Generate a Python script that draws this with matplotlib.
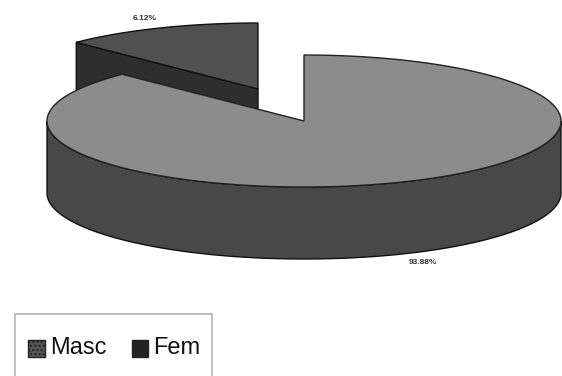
import matplotlib
matplotlib.use('Agg')
import matplotlib.pyplot as plt
import numpy as np
from matplotlib.patches import Rectangle

categories = ['Masc', 'Fem']
labels = ['93.88%', '6.12%']
# share of the circle each slice takes up as drawn
drawn_shares = [87.5, 12.5]

plt.rcParams['font.family'] = ['Liberation Sans', 'DejaVu Sans']

fig = plt.figure(figsize=(5.62, 3.76), dpi=100)
ax = fig.add_axes([0, 0, 1, 1])
ax.set_xlim(0, 562)
ax.set_ylim(376, 0)
ax.axis('off')

cx, cy = 304, 121
rx, ry = 257, 66
depth = 72
shift_x, shift_y = -46, -32  # how far the small slice is pulled out

def arc(t1, t2, dx=0, dy=0, n=200):
    t = np.radians(np.linspace(t1, t2, n))
    return cx + dx + rx * np.cos(t), cy + dy - ry * np.sin(t)

# small slice sits just left of 12 o'clock
fem_start = 90
fem_end = fem_start + drawn_shares[1] * 3.6

# small slice: cut face first, then the top
x1, y1 = arc(fem_end, fem_end, shift_x, shift_y, 2)
ax.fill([cx + shift_x, x1[0], x1[0], cx + shift_x],
        [cy + shift_y, y1[0], y1[0] + depth, cy + shift_y + depth],
        color='#2e2e2e', ec='#111111', lw=1, zorder=1)
x, y = arc(fem_start, fem_end, shift_x, shift_y)
ax.fill(np.r_[cx + shift_x, x], np.r_[cy + shift_y, y],
        color='#505050', ec='#111111', lw=1, zorder=2)

# big slice: outer wall, then the top
x, y = arc(180, 360)
ax.fill(np.r_[x, x[::-1]], np.r_[y, y[::-1] + depth],
        color='#484848', ec='#111111', lw=1, zorder=3)
x, y = arc(fem_end, 360 + fem_start)
ax.fill(np.r_[cx, x], np.r_[cy, y],
        color='#8c8c8c', ec='#222222', lw=1, zorder=4)

ax.text(145, 18, labels[1], fontsize=6, fontweight='bold', ha='center', va='center', color='#333333')
ax.text(423, 263, labels[0], fontsize=6, fontweight='bold', ha='center', va='center', color='#333333')

# legend box runs off the bottom of the picture
ax.add_patch(Rectangle((15, 314), 197, 70, fc='white', ec='#b4b4b4', lw=1.2, zorder=5))
ax.add_patch(Rectangle((28, 340), 17, 17, fc='#555555', ec='#222222', lw=1, hatch='....', zorder=6))
ax.text(50, 348, categories[0], fontsize=17, va='center', color='#111111', zorder=6)
ax.add_patch(Rectangle((132, 340), 16, 17, fc='#222222', ec='#222222', lw=1, zorder=6))
ax.text(153, 348, categories[1], fontsize=17, va='center', color='#111111', zorder=6)

fig.savefig('out.png', dpi=100)
